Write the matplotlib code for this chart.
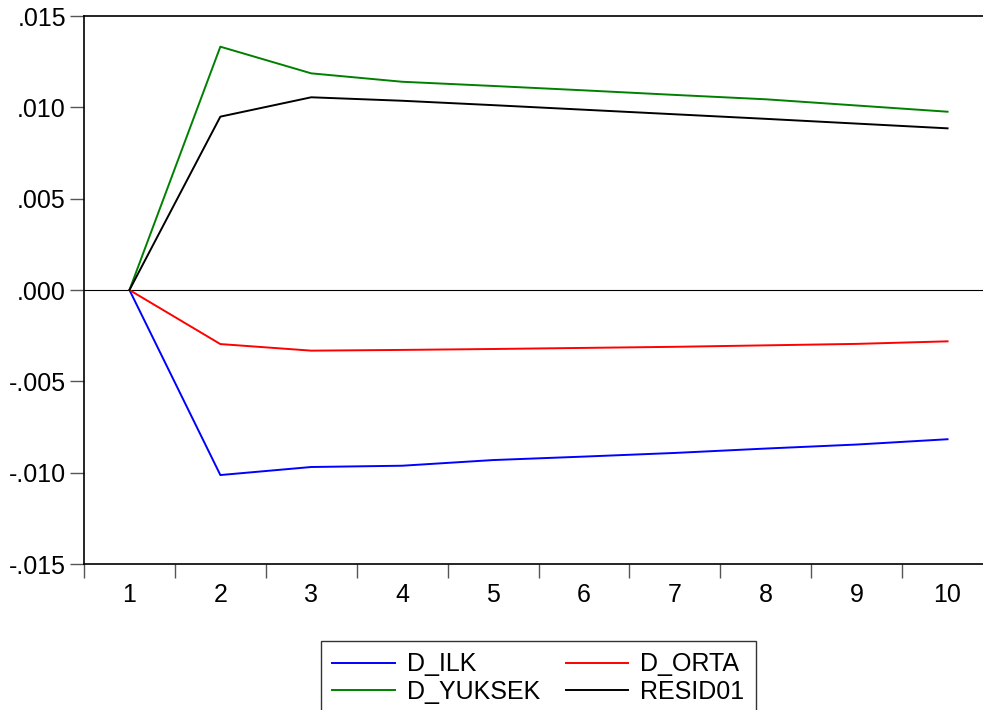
import matplotlib
matplotlib.use("Agg")
import matplotlib.pyplot as plt
import numpy as np

plt.rcParams['font.family'] = ['Liberation Sans', 'DejaVu Sans']

# impulse response periods and values
periods = [1, 2, 3, 4, 5, 6, 7, 8, 9, 10]
d_ilk = [0.0, -0.01013, -0.00969, -0.00962, -0.00931, -0.00912, -0.00892, -0.00868, -0.00846, -0.00817]
d_orta = [0.0, -0.00296, -0.00332, -0.00328, -0.00323, -0.00317, -0.00311, -0.00303, -0.00295, -0.00281]
d_yuksek = [0.0, 0.01332, 0.01186, 0.0114, 0.01117, 0.01093, 0.01068, 0.01044, 0.0101, 0.00976]
resid01 = [0.0, 0.00949, 0.01055, 0.01036, 0.01012, 0.00987, 0.00962, 0.00937, 0.00911, 0.00885]

y_ticks = [-0.015, -0.010, -0.005, 0.000, 0.005, 0.010, 0.015]
y_labels = ['-.015', '-.010', '-.005', '.000', '.005', '.010', '.015']

fig = plt.figure(figsize=(9.83, 7.10), dpi=100)
ax = fig.add_axes([84 / 983, 1 - 564 / 710, 909 / 983, 548 / 710])

ax.axhline(0, color='black', linewidth=0.8)
l_ilk, = ax.plot(periods, d_ilk, color='#0000ff', linewidth=1.4, label='D_ILK')
l_orta, = ax.plot(periods, d_orta, color='#ff0000', linewidth=1.4, label='D_ORTA')
l_yuk, = ax.plot(periods, d_yuksek, color='#008000', linewidth=1.4, label='D_YUKSEK')
l_res, = ax.plot(periods, resid01, color='black', linewidth=1.4, label='RESID01')

ax.set_xlim(0.5, 10.5)
ax.set_ylim(-0.015, 0.015)

ax.set_yticks(y_ticks)
ax.set_yticklabels(y_labels)

# category labels at centres, tick marks between categories
ax.set_xticks(periods)
ax.set_xticklabels([str(p) for p in periods])
ax.set_xticks(np.arange(0.5, 10.6, 1.0), minor=True)
ax.tick_params(axis='x', which='major', length=0, pad=14, labelsize=18)
ax.tick_params(axis='x', which='minor', length=10, width=1, color='#555555')
ax.tick_params(axis='y', length=10, width=1, color='#555555', labelsize=18, pad=3)

for s in ax.spines.values():
    s.set_linewidth(1.2)

# legend filled row by row: ILK, ORTA / YUKSEK, RESID01
handles = [l_ilk, l_yuk, l_orta, l_res]
leg = fig.legend(handles, [h.get_label() for h in handles],
                 loc='upper left', bbox_to_anchor=(321 / 983, 1 - 641 / 710),
                 ncol=2, fontsize=18, frameon=True, fancybox=False,
                 edgecolor='black', handlelength=2.5, columnspacing=1.0,
                 handletextpad=0.5, borderpad=0.45, labelspacing=0.15,
                 borderaxespad=0)
leg.get_frame().set_linewidth(1.0)

fig.savefig('out.png', dpi=100)
